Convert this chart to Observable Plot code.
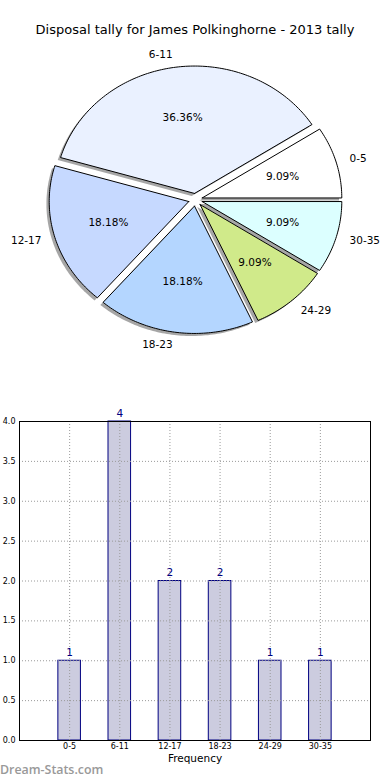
<!DOCTYPE html>
<html><head><meta charset="utf-8">
<script src="https://cdn.jsdelivr.net/npm/d3@7"></script>
<script src="https://cdn.jsdelivr.net/npm/@observablehq/plot@0.6"></script>
<style>
body{margin:0;background:#fff;}
#wrap{position:relative;width:390px;height:780px;font-family:"DejaVu Sans";overflow:hidden;}
#title{position:absolute;top:21px;left:0;width:390px;text-align:center;font-size:13px;line-height:18px;color:#000;}
#pie{position:absolute;top:0;left:0;}
#bar{position:absolute;top:380px;left:0;}
#wm{position:absolute;left:0;top:762px;font-family:"Open Sans";font-weight:600;font-size:12.4px;color:#999;line-height:16px;}
svg{display:block;}
</style></head>
<body><div id="wrap"><div id="pie"></div><div id="bar"></div><div id="title">Disposal tally for James Polkinghorne - 2013 tally</div><div id="wm">Dream-Stats.com</div></div>
<script>
const categories = ["0-5", "6-11", "12-17", "18-23", "24-29", "30-35"];
const counts = [1, 4, 2, 2, 1, 1];
const explode = [0.05, 0.05, 0.05, 0.05, 0.05, 0.05];
const sliceColors = ["#ffffff", "#eaf1ff", "#c6d9ff", "#b4d6ff", "#d0ea8a", "#dcffff"];
const yTicks = [0, 0.5, 1, 1.5, 2, 2.5, 3, 3.5, 4];

const total = d3.sum(counts);
let a0 = 0;
const slices = categories.map((cat, i) => {
  const t1 = a0, t2 = a0 + counts[i] / total * 360;
  a0 = t2;
  const mid = (t1 + t2) / 2 * Math.PI / 180;
  const cx = explode[i] * Math.cos(mid), cy = explode[i] * Math.sin(mid);
  return {cat, i, t1, t2, mid, cx, cy, pct: (counts[i] / total * 100).toFixed(2) + "%"};
});

const wedgePts = [];
const shadowPts = [];
const SH = -0.02;
for (const s of slices) {
  const pts = [[s.cx, s.cy]];
  const n = Math.ceil(s.t2 - s.t1);
  for (let k = 0; k <= n; k++) {
    const a = (s.t1 + (s.t2 - s.t1) * k / n) * Math.PI / 180;
    pts.push([s.cx + Math.cos(a), s.cy + Math.sin(a)]);
  }
  pts.push([s.cx, s.cy]);
  for (const [x, y] of pts) {
    wedgePts.push({cat: s.cat, x, y});
    shadowPts.push({cat: s.cat, x: x + SH, y: y + SH});
  }
}

const labels = slices.map(s => ({
  text: s.cat,
  x: s.cx + 1.1 * Math.cos(s.mid),
  y: s.cy + 1.1 * Math.sin(s.mid)
}));
const pcts = slices.map(s => ({
  text: s.pct,
  x: s.cx + 0.6 * Math.cos(s.mid),
  y: s.cy + 0.6 * Math.sin(s.mid)
}));

const pie = Plot.plot({
  width: 390, height: 380,
  marginTop: 40, marginBottom: 21.5, marginLeft: 20.5, marginRight: 20.5,
  x: {domain: [-1.25, 1.25], axis: null},
  y: {domain: [-1.25, 1.25], axis: null},
  color: {type: "ordinal", domain: categories, range: sliceColors},
  style: {fontFamily: "DejaVu Sans", color: "black", background: "transparent"},
  marks: [
    Plot.line(shadowPts, {x: "x", y: "y", z: "cat", fill: "#4d4d4d", fillOpacity: 0.5, stroke: "none"}),
    Plot.line(wedgePts, {x: "x", y: "y", z: "cat", fill: "cat", stroke: "black", strokeWidth: 1, strokeLinejoin: "miter"}),
    Plot.text(labels.filter(d => d.x > 0), {x: "x", y: "y", text: "text", textAnchor: "start", fontSize: 10.5, fill: "black"}),
    Plot.text(labels.filter(d => d.x <= 0), {x: "x", y: "y", text: "text", textAnchor: "end", fontSize: 10.5, fill: "black"}),
    Plot.text(pcts, {x: "x", y: "y", text: "text", fontSize: 10.5, fill: "black"})
  ]
});
document.getElementById("pie").appendChild(pie);

const barData = categories.map((cat, i) => ({cat, i, n: counts[i]}));
const BW = 0.45;
const bar = Plot.plot({
  width: 390, height: 400,
  marginTop: 41, marginBottom: 40, marginLeft: 19, marginRight: 20,
  x: {domain: [-1, 6]},
  y: {domain: [0, 4]},
  style: {fontFamily: "DejaVu Sans", fontSize: "8px", color: "black", background: "transparent"},
  marks: [
    Plot.rect(barData, {x1: d => d.i - BW / 2, x2: d => d.i + BW / 2, y1: 0, y2: "n", fill: "#ccccdf", stroke: "#000080", strokeWidth: 1}),
    Plot.ruleX(barData, {x: "i", stroke: "#9a9a9a", strokeDasharray: "1,2"}),
    Plot.ruleY(yTicks.slice(1, -1), {stroke: "#9a9a9a", strokeDasharray: "1,2"}),
    Plot.frame({stroke: "black"}),
    Plot.text(barData, {x: "i", y: "n", text: d => String(d.n), dy: -8, fill: "#000080", fontSize: 10.5}),
    Plot.axisY({ticks: yTicks, tickFormat: d3.format(".1f"), tickSize: 0, tickPadding: 4, label: null}),
    Plot.axisX({ticks: barData.map(d => d.i), tickFormat: i => categories[i], tickSize: 0, tickPadding: 3, label: null}),
    Plot.text(["Frequency"], {frameAnchor: "bottom", dy: 21, text: d => d, fontSize: 10.5, fill: "black"})
  ]
});
document.getElementById("bar").appendChild(bar);
</script>
</body></html>
